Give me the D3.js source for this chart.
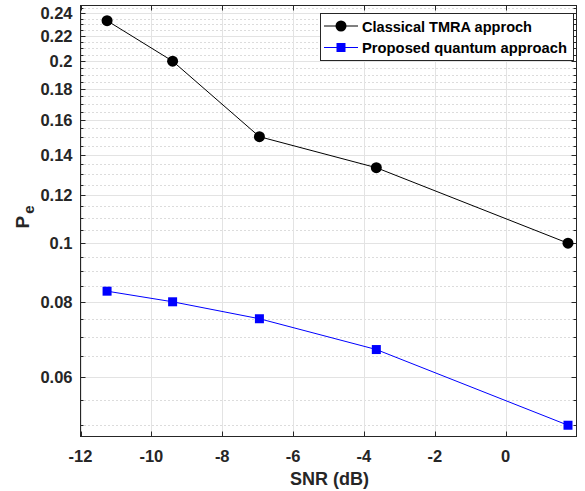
<!DOCTYPE html>
<html><head><meta charset="utf-8">
<script src="https://cdn.jsdelivr.net/npm/d3@7"></script>
<style>body{margin:0;background:#fff;} svg{display:block;font-family:"Liberation Sans",Arial,sans-serif;}</style>
</head><body>
<script>
const snr = [-11.25, -9.4, -6.95, -3.65, 1.76];
const classical = [0.2333, 0.2, 0.15, 0.1333, 0.1];
const quantum = [0.0833, 0.08, 0.075, 0.0667, 0.05];
const seriesNames = ["Classical TMRA approch", "Proposed quantum approach"];
const xTicks = [-12, -10, -8, -6, -4, -2, 0];
const yTicks = [0.06, 0.08, 0.1, 0.12, 0.14, 0.16, 0.18, 0.2, 0.22, 0.24];
const yMinor = [0.05,0.055,0.065,0.07,0.075,0.085,0.09,0.095,0.105,0.11,0.115,0.125,0.13,0.135,0.145,0.15,0.155,0.165,0.17,0.175,0.185,0.19,0.195,0.205,0.21,0.215,0.225,0.23,0.235,0.245];

const W=585,H=491;
const m={l:80.5,r:576.5,t:5.5,b:436.5};
const svg=d3.select("body").append("svg").attr("width",W).attr("height",H);
const x=d3.scaleLinear().domain([-12,2]).range([m.l,m.r]);
const y=d3.scaleLog().domain([0.0479,0.2472]).range([m.b,m.t]);
const axc="#262626";

// grids
const g=svg.append("g");
g.selectAll(".ym").data(yMinor).join("line").attr("x1",m.l).attr("x2",m.r)
 .attr("y1",d=>Math.round(y(d))+0.5).attr("y2",d=>Math.round(y(d))+0.5)
 .attr("stroke","#b8b8b8").attr("stroke-width",1).attr("stroke-dasharray","1,3");
g.selectAll(".yg").data(yTicks).join("line").attr("x1",m.l).attr("x2",m.r)
 .attr("y1",d=>Math.round(y(d))+0.5).attr("y2",d=>Math.round(y(d))+0.5)
 .attr("stroke","#e3e3e3").attr("stroke-width",1);
g.selectAll(".xg").data(xTicks).join("line").attr("y1",m.t).attr("y2",m.b)
 .attr("x1",d=>Math.round(x(d))+0.5).attr("x2",d=>Math.round(x(d))+0.5)
 .attr("stroke","#e3e3e3").attr("stroke-width",1);

// axes
const tl=5, tlm=3;
const ax=svg.append("g");
ax.append("rect").attr("x",m.l).attr("y",m.t).attr("width",m.r-m.l).attr("height",m.b-m.t)
 .attr("fill","none").attr("stroke",axc).attr("stroke-width",1);
xTicks.forEach(v=>{const px=Math.round(x(v))+0.5;
 ax.append("line").attr("x1",px).attr("x2",px).attr("y1",m.b).attr("y2",m.b-tl).attr("stroke",axc);
 ax.append("line").attr("x1",px).attr("x2",px).attr("y1",m.t).attr("y2",m.t+tl).attr("stroke",axc);
});
yTicks.forEach(v=>{const py=Math.round(y(v))+0.5;
 ax.append("line").attr("x1",m.l).attr("x2",m.l+tl).attr("y1",py).attr("y2",py).attr("stroke",axc);
 ax.append("line").attr("x1",m.r).attr("x2",m.r-tl).attr("y1",py).attr("y2",py).attr("stroke",axc);
});
yMinor.forEach(v=>{const py=Math.round(y(v))+0.5;
 ax.append("line").attr("x1",m.l).attr("x2",m.l+tlm).attr("y1",py).attr("y2",py).attr("stroke",axc);
 ax.append("line").attr("x1",m.r).attr("x2",m.r-tlm).attr("y1",py).attr("y2",py).attr("stroke",axc);
});
ax.selectAll(".xl").data(xTicks).join("text").attr("x",d=>x(d)).attr("y",m.b+25)
 .attr("text-anchor","middle").attr("font-size",16.5).attr("font-weight","bold").attr("fill",axc)
 .text(d=>d);
ax.selectAll(".yl").data(yTicks).join("text").attr("x",m.l-8).attr("y",d=>y(d)+6)
 .attr("text-anchor","end").attr("font-size",16.5).attr("font-weight","bold").attr("fill",axc)
 .text(d=>String(d));
svg.append("text").attr("x",(m.l+m.r)/2+1).attr("y",485).attr("text-anchor","middle")
 .attr("font-size",18).attr("font-weight","bold").attr("fill",axc).text("SNR (dB)");
const yl=svg.append("text").attr("transform","translate(29,217) rotate(-90)").attr("text-anchor","middle")
 .attr("font-size",19).attr("font-weight","bold").attr("fill",axc);
yl.append("tspan").text("P");
yl.append("tspan").attr("font-size",15).attr("dy",5).attr("dx",2).text("e");

// series
const line=d3.line().x(d=>x(d[0])).y(d=>y(d[1]));
const dC=snr.map((s,i)=>[s,classical[i]]), dQ=snr.map((s,i)=>[s,quantum[i]]);
svg.append("path").attr("d",line(dC)).attr("fill","none").attr("stroke","#000").attr("stroke-width",1);
svg.append("path").attr("d",line(dQ)).attr("fill","none").attr("stroke","#0000ff").attr("stroke-width",1);
svg.selectAll(".c").data(dC).join("circle").attr("cx",d=>x(d[0])).attr("cy",d=>y(d[1])).attr("r",5.5).attr("fill","#000");
svg.selectAll(".q").data(dQ).join("rect").attr("x",d=>x(d[0])-4.5).attr("y",d=>y(d[1])-4.5).attr("width",9).attr("height",9).attr("fill","#0000ff");

// legend
const lg=svg.append("g");
lg.append("rect").attr("x",320.5).attr("y",13.5).attr("width",253).attr("height",47).attr("fill","#fff").attr("stroke",axc);
const rows=[{n:seriesNames[0],c:"#000",m:"c"},{n:seriesNames[1],c:"#0000ff",m:"s"}];
rows.forEach((r,i)=>{const yy=26+i*21.5;
 lg.append("line").attr("x1",324).attr("x2",358).attr("y1",yy).attr("y2",yy).attr("stroke",r.c);
 if(r.m==="c") lg.append("circle").attr("cx",341).attr("cy",yy).attr("r",5.5).attr("fill",r.c);
 else lg.append("rect").attr("x",341-4.5).attr("y",yy-4.5).attr("width",9).attr("height",9).attr("fill",r.c);
 lg.append("text").attr("x",362).attr("y",yy+5.5).attr("font-size",15).attr("font-weight","bold").attr("fill","#000")
  .attr("textLength",r.n.length>22?205:170).attr("lengthAdjust","spacingAndGlyphs").text(r.n);
});
</script>
</body></html>
